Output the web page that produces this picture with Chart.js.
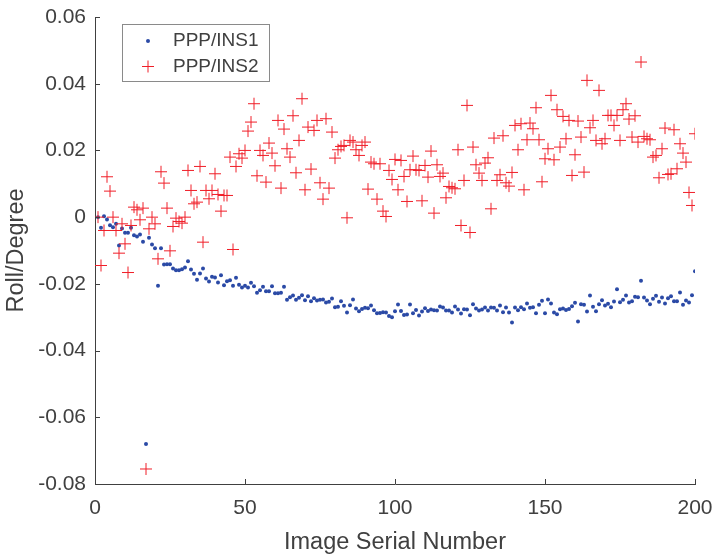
<!DOCTYPE html>
<html>
<head>
<meta charset="utf-8">
<title>Roll error</title>
<script src="https://cdn.jsdelivr.net/npm/chart.js@4.4.1/dist/chart.umd.min.js"></script>
<style>
    body { margin: 0; background: #fff; }
    #wrap { width: 715px; height: 554px; }
</style>
</head>
<body>
<div id="wrap"><canvas id="roll-chart" width="715" height="554"></canvas></div>
<script>
// image serial numbers 1..200
const imageSerial = Array.from({length: 200}, (_, i) => i + 1);

const xTicks = [0, 50, 100, 150, 200];
const yTicks = [-0.08, -0.06, -0.04, -0.02, 0, 0.02, 0.04, 0.06];

// PPP/INS1 roll error (degree)
const rollIns1 = [
    0, -0.0032, 0.0003, -0.0007, -0.0024, -0.003, -0.002, -0.0085, -0.0034, -0.0047,
    -0.0047, -0.0032, -0.0054, -0.0058, -0.0052, -0.0074, -0.068, -0.0062, -0.0082, -0.0093,
    -0.0206, -0.0093, -0.0142, -0.0141, -0.0141, -0.0154, -0.0159, -0.0159, -0.0156, -0.0151,
    -0.0132, -0.0157, -0.017, -0.0188, -0.0169, -0.0154, -0.0184, -0.0193, -0.0179, -0.0181,
    -0.0196, -0.0174, -0.0204, -0.0192, -0.0189, -0.0206, -0.0182, -0.0203, -0.0211, -0.0206,
    -0.0211, -0.0197, -0.0207, -0.0227, -0.0219, -0.0209, -0.0222, -0.0222, -0.0207, -0.0228,
    -0.0228, -0.0227, -0.0209, -0.0248, -0.024, -0.0235, -0.0248, -0.0242, -0.0234, -0.0249,
    -0.0237, -0.0252, -0.0243, -0.025, -0.0248, -0.0247, -0.0256, -0.0254, -0.0244, -0.027,
    -0.0269, -0.0252, -0.0266, -0.0286, -0.0264, -0.0247, -0.0274, -0.0282, -0.0275, -0.0272,
    -0.0273, -0.0265, -0.0279, -0.0288, -0.0287, -0.0285, -0.0286, -0.0296, -0.03, -0.0282,
    -0.0262, -0.0281, -0.0293, -0.0292, -0.0262, -0.0288, -0.0278, -0.0295, -0.0283, -0.0273,
    -0.0281, -0.0277, -0.0279, -0.028, -0.0268, -0.0271, -0.028, -0.028, -0.0286, -0.0268,
    -0.0277, -0.0289, -0.0276, -0.0277, -0.0294, -0.0261, -0.0274, -0.028, -0.0277, -0.0271,
    -0.028, -0.0271, -0.0272, -0.028, -0.0265, -0.0285, -0.0271, -0.0286, -0.0316, -0.0271,
    -0.0279, -0.027, -0.0276, -0.0259, -0.0272, -0.027, -0.0288, -0.0263, -0.0251, -0.0288,
    -0.0247, -0.0259, -0.0286, -0.0291, -0.0276, -0.0274, -0.0278, -0.0275, -0.0267, -0.0257,
    -0.0313, -0.0261, -0.0263, -0.0283, -0.0235, -0.0269, -0.0282, -0.0261, -0.0249, -0.0265,
    -0.026, -0.027, -0.0253, -0.0216, -0.0255, -0.0248, -0.0235, -0.0256, -0.0252, -0.0239,
    -0.024, -0.0191, -0.0241, -0.025, -0.0261, -0.0245, -0.0236, -0.0254, -0.0241, -0.0259,
    -0.0243, -0.0237, -0.0252, -0.0252, -0.0226, -0.0263, -0.025, -0.0256, -0.0234, -0.0162
];

// PPP/INS2 roll error (degree)
const rollIns2 = [
    0, -0.0145, -0.004, 0.0121, 0.0078, 0, -0.004, -0.0108, -0.002, -0.008,
    -0.0166, -0.0025, 0.003, 0.0022, -0.0008, 0.0027, -0.0755, -0.0035, 0, -0.002,
    -0.0125, 0.0136, 0.0102, 0.0027, -0.0101, -0.0028, -0.0003, -0.0013, -0.0018, 0,
    0.014, 0.008, 0.004, 0.0045, 0.0152, -0.0075, 0.008, 0.0055, 0.008, 0.013,
    0.0068, 0.0018, 0.0065, 0.0065, 0.018, -0.0097, 0.0152, 0.019, 0.0177, 0.02,
    0.0258, 0.0285, 0.034, 0.0124, 0.02, 0.0185, 0.0105, 0.0222, 0.0192, 0.0154,
    0.029, 0.0087, 0.0264, 0.0205, 0.018, 0.0304, 0.0133, 0.023, 0.0355, 0.0082,
    0.027, 0.0144, 0.026, 0.029, 0.0103, 0.0054, 0.0295, 0.0087, 0.0255, 0.0177,
    0.0202, 0.0212, 0.0215, -0.0002, 0.023, 0.0225, 0.0202, 0.0185, 0.0215, 0.0225,
    0.0084, 0.0165, 0.016, 0.0054, 0.016, 0.0018, 0.0002, 0.014, 0.0113, 0.0173,
    0.0082, 0.017, 0.0122, 0.0047, 0.0142, 0.0183, 0.0142, 0.014, 0.0049, 0.0155,
    0.012, 0.0198, 0.0012, 0.0157, 0.0122, 0.0132, 0.0058, 0.0092, 0.0088, 0.0085,
    0.0202, -0.0025, 0.011, 0.0335, -0.0046, 0.021, 0.0157, 0.0132, 0.011, 0.0162,
    0.0178, 0.0025, 0.0237, 0.011, 0.0127, 0.0244, 0.0103, 0.0093, 0.0134, 0.0275,
    0.0202, 0.028, 0.0082, 0.0232, 0.0282, 0.0265, 0.0328, 0.0232, 0.0106, 0.0175,
    0.0205, 0.0365, 0.0172, 0.0322, 0.021, 0.0302, 0.0235, 0.029, 0.0125, 0.0187,
    0.0288, 0.024, 0.0135, 0.041, 0.0268, 0.029, 0.023, 0.038, 0.022, 0.0235,
    0.0305, 0.0305, 0.0275, 0.0305, 0.023, 0.0322, 0.034, 0.0294, 0.024, 0.0304,
    0.0225, 0.0465, 0.0242, 0.0235, 0.0232, 0.018, 0.0185, 0.0118, 0.0205, 0.0267,
    0.0128, 0.013, 0.0262, 0.0145, 0.022, 0.0192, 0.0165, 0.0074, 0.0035, 0.025
];

const seriesNames = ['PPP/INS1', 'PPP/INS2'];

const blue = '#2b4aa6';
const red = 'rgb(240, 30, 40)';
const axisColor = '#404040';
const textColor = '#404040';
const fontFamily = "'Liberation Sans', Arial, sans-serif";

Chart.defaults.font.family = fontFamily;
Chart.defaults.color = textColor;

function toPoints(values) {
    return values.map((v, i) => ({x: imageSerial[i], y: v}));
}

// MATLAB style ticks pointing into the plot
const inwardTicks = {
    id: 'inwardTicks',
    afterDatasetsDraw(chart) {
        const ctx = chart.ctx;
        const xs = chart.scales.x;
        const ys = chart.scales.y;
        const len = 5;
        ctx.save();
        ctx.strokeStyle = axisColor;
        ctx.lineWidth = 1;
        ctx.beginPath();
        xTicks.forEach(t => {
            const px = Math.round(xs.getPixelForValue(t)) + 0.5;
            ctx.moveTo(px, ys.bottom);
            ctx.lineTo(px, ys.bottom - len);
        });
        yTicks.forEach(t => {
            const py = Math.round(ys.getPixelForValue(t)) + 0.5;
            ctx.moveTo(xs.left, py);
            ctx.lineTo(xs.left + len, py);
        });
        ctx.stroke();
        ctx.restore();
    }
};

// boxed legend in the upper left, like the MATLAB one
const boxedLegend = {
    id: 'boxedLegend',
    afterDraw(chart) {
        const ctx = chart.ctx;
        const box = {x: 122.5, y: 24.5, w: 147, h: 57};
        ctx.save();
        ctx.fillStyle = '#fff';
        ctx.fillRect(box.x, box.y, box.w, box.h);
        ctx.strokeStyle = '#8a8a8a';
        ctx.lineWidth = 1;
        ctx.strokeRect(box.x, box.y, box.w, box.h);

        const rows = [41, 66.5];
        const markX = 148;
        const textX = 173;

        // dot
        ctx.fillStyle = blue;
        ctx.beginPath();
        ctx.arc(markX, rows[0], 2, 0, Math.PI * 2);
        ctx.fill();

        // cross
        ctx.strokeStyle = red;
        ctx.beginPath();
        ctx.moveTo(markX - 6, rows[1]);
        ctx.lineTo(markX + 6, rows[1]);
        ctx.moveTo(markX, rows[1] - 6);
        ctx.lineTo(markX, rows[1] + 6);
        ctx.stroke();

        ctx.fillStyle = textColor;
        ctx.font = `19px ${fontFamily}`;
        ctx.textBaseline = 'middle';
        ctx.textAlign = 'left';
        chart.data.datasets.forEach((ds, i) => {
            ctx.fillText(ds.label, textX, rows[i]);
        });
        ctx.restore();
    }
};

const config = {
    type: 'scatter',
    data: {
        datasets: [
            {
                label: seriesNames[0],
                data: toPoints(rollIns1),
                pointStyle: 'circle',
                pointRadius: 2,
                pointBorderWidth: 0,
                backgroundColor: blue,
                borderColor: blue,
                order: 2
            },
            {
                label: seriesNames[1],
                data: toPoints(rollIns2),
                pointStyle: 'cross',
                pointRadius: 6,
                pointBorderWidth: 1,
                backgroundColor: red,
                borderColor: red,
                order: 1
            }
        ]
    },
    options: {
        responsive: false,
        animation: false,
        events: [],
        layout: {
            padding: {top: 17, right: 20, left: 0, bottom: 0}
        },
        plugins: {
            legend: {display: false},
            tooltip: {enabled: false}
        },
        scales: {
            x: {
                type: 'linear',
                min: 0,
                max: 200,
                afterBuildTicks: (scale) => {
                    scale.ticks = xTicks.map(v => ({value: v}));
                },
                ticks: {
                    padding: 12,
                    color: textColor,
                    font: {size: 21},
                    maxRotation: 0
                },
                grid: {display: false, drawTicks: false},
                border: {display: true, color: axisColor, width: 1},
                title: {
                    display: true,
                    text: 'Image Serial Number',
                    color: textColor,
                    font: {size: 23.5, lineHeight: 1},
                    padding: 0
                },
                afterFit: (scale) => {
                    // fixed box, layout padding decides the plot edges
                    scale.height = 70;
                    scale.paddingLeft = 0;
                    scale.paddingRight = 0;
                }
            },
            y: {
                type: 'linear',
                min: -0.08,
                max: 0.06,
                afterBuildTicks: (scale) => {
                    scale.ticks = yTicks.map(v => ({value: v}));
                },
                ticks: {
                    padding: 9,
                    color: textColor,
                    font: {size: 21},
                    callback: (value) => String(Math.round(value * 100) / 100)
                },
                grid: {display: false, drawTicks: false},
                border: {display: true, color: axisColor, width: 1},
                title: {
                    display: true,
                    text: 'Roll/Degree',
                    color: textColor,
                    font: {size: 23.5, lineHeight: 1},
                    padding: {top: 5, bottom: 0}
                },
                afterFit: (scale) => {
                    scale.width = 95;
                    scale.paddingTop = 0;
                    scale.paddingBottom = 0;
                }
            }
        }
    },
    plugins: [inwardTicks, boxedLegend]
};

new Chart(document.getElementById('roll-chart'), config);
</script>
</body>
</html>
